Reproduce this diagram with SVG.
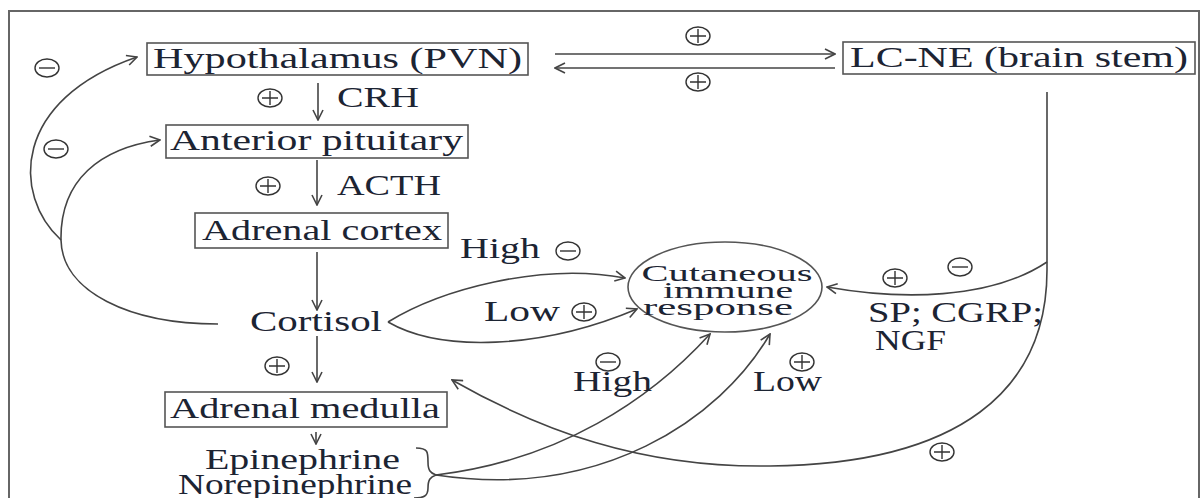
<svg xmlns="http://www.w3.org/2000/svg" width="1200" height="498" viewBox="0 0 1200 498">
<style>
.t{font-family:"Liberation Serif","Times New Roman",serif;font-size:30px;fill:#1c2433}
.ts{font-family:"Liberation Serif","Times New Roman",serif;font-size:24px;fill:#1c2433}
.box{fill:#fff;stroke:#555;stroke-width:1.6}
.ln{fill:none;stroke:#444;stroke-width:1.6}
.sg{fill:none;stroke:#333;stroke-width:1.4}
</style>
<defs>
<marker id="ah" viewBox="0 0 12 12" refX="11" refY="6" markerWidth="12" markerHeight="12" markerUnits="userSpaceOnUse" orient="auto">
<path d="M1,1 L11,6 L1,11" fill="none" stroke="#444" stroke-width="1.6"/>
</marker>
<g id="plus"><ellipse cx="0" cy="0" rx="12" ry="9" class="sg"/><path d="M-8,0 H8 M0,-7 V7" class="sg"/></g>
<g id="minus"><ellipse cx="0" cy="0" rx="12" ry="9" class="sg"/><path d="M-8,0 H8" class="sg"/></g>
</defs>
<rect x="0" y="0" width="1200" height="498" fill="#fff"/>
<path d="M9,498 V11 H1199 V498" fill="none" stroke="#666" stroke-width="2"/>

<g id="connectors">
<path class="ln" d="M318,83 V120" marker-end="url(#ah)"/>
<path class="ln" d="M317,160 V205" marker-end="url(#ah)"/>
<path class="ln" d="M317,252 V310" marker-end="url(#ah)"/>
<path class="ln" d="M317,336 V382" marker-end="url(#ah)"/>
<path class="ln" d="M316,432 V444" marker-end="url(#ah)"/>
<path class="ln" d="M555,54 H835" marker-end="url(#ah)"/>
<path class="ln" d="M835,68 H555" marker-end="url(#ah)"/>
<path class="ln" d="M218,324 C130,324 62,292 61,240 C60,180 100,148 160,140" marker-end="url(#ah)"/>
<path class="ln" d="M61,240 C12,195 12,100 137,57" marker-end="url(#ah)"/>
<path class="ln" d="M388,322 C440,290 540,262 625,278" marker-end="url(#ah)"/>
<path class="ln" d="M388,322 C440,352 540,350 637,309" marker-end="url(#ah)"/>
<path class="ln" d="M436,475 C560,460 650,400 710,334" marker-end="url(#ah)"/>
<path class="ln" d="M436,475 C600,500 720,420 770,334" marker-end="url(#ah)"/>
<path class="ln" d="M1047,92 V270 C1047,390 960,464 770,466 C640,468 540,430 452,380" marker-end="url(#ah)"/>
<path class="ln" d="M1047,262 C990,300 900,300 827,287" marker-end="url(#ah)"/>
</g>

<g id="n-hypothalamus"><rect class="box" x="147" y="43" width="381" height="32"/><text class="t" x="153" y="68" textLength="369" lengthAdjust="spacingAndGlyphs">Hypothalamus (PVN)</text></g>
<g id="n-lcne"><rect class="box" x="843" y="42" width="352" height="32"/><text class="t" x="850" y="67" textLength="338" lengthAdjust="spacingAndGlyphs">LC-NE (brain stem)</text></g>
<g id="n-anterior"><rect class="box" x="166" y="125" width="302" height="33"/><text class="t" x="170" y="150" textLength="293" lengthAdjust="spacingAndGlyphs">Anterior pituitary</text></g>
<g id="n-cortex"><rect class="box" x="195" y="213" width="253" height="35"/><text class="t" x="202" y="240" textLength="240" lengthAdjust="spacingAndGlyphs">Adrenal cortex</text></g>
<g id="n-cortisol"><text class="t" x="250" y="331" textLength="132" lengthAdjust="spacingAndGlyphs">Cortisol</text></g>
<g id="n-medulla"><rect class="box" x="165" y="392" width="282" height="35"/><text class="t" x="170" y="418" textLength="270" lengthAdjust="spacingAndGlyphs">Adrenal medulla</text></g>
<g id="n-epi"><text class="t" x="205" y="469" textLength="195" lengthAdjust="spacingAndGlyphs">Epinephrine</text><text class="t" x="178" y="494" textLength="234" lengthAdjust="spacingAndGlyphs">Norepinephrine</text>
<path class="ln" d="M416,448 C428,448 428,452 428,462 C428,470 430,473 436,475 C430,477 428,480 428,488 C428,496 424,498 414,498"/></g>
<g id="n-immune"><ellipse cx="725" cy="287" rx="97" ry="45" fill="none" stroke="#555" stroke-width="1.6"/>
<text class="ts" x="727" y="281" text-anchor="middle" textLength="171" lengthAdjust="spacingAndGlyphs">Cutaneous</text>
<text class="ts" x="728" y="298" text-anchor="middle" textLength="130" lengthAdjust="spacingAndGlyphs">immune</text>
<text class="ts" x="718" y="315" text-anchor="middle" textLength="150" lengthAdjust="spacingAndGlyphs">response</text></g>

<g id="labels">
<text class="t" x="337" y="107" textLength="82" lengthAdjust="spacingAndGlyphs">CRH</text>
<text class="t" x="337" y="195" textLength="104" lengthAdjust="spacingAndGlyphs">ACTH</text>
<text class="t" x="460" y="258" textLength="80" lengthAdjust="spacingAndGlyphs">High</text>
<text class="t" x="484" y="321" textLength="76" lengthAdjust="spacingAndGlyphs">Low</text>
<text class="t" x="868" y="322" textLength="175" lengthAdjust="spacingAndGlyphs">SP; CGRP;</text>
<text class="t" x="875" y="350" textLength="71" lengthAdjust="spacingAndGlyphs">NGF</text>
<text class="t" x="573" y="391" textLength="79" lengthAdjust="spacingAndGlyphs">High</text>
<text class="t" x="753" y="391" textLength="69" lengthAdjust="spacingAndGlyphs">Low</text>
<use href="#plus" x="698" y="36"/>
<use href="#plus" x="698" y="82"/>
<use href="#minus" x="47" y="68"/>
<use href="#minus" x="56" y="149"/>
<use href="#plus" x="270" y="98"/>
<use href="#plus" x="268" y="186"/>
<use href="#minus" x="568" y="251"/>
<use href="#plus" x="584" y="312"/>
<use href="#plus" x="895" y="278"/>
<use href="#minus" x="960" y="267"/>
<use href="#plus" x="277" y="366"/>
<use href="#minus" x="608" y="362"/>
<use href="#plus" x="802" y="362"/>
<use href="#plus" x="942" y="452"/>
</g>
</svg>
